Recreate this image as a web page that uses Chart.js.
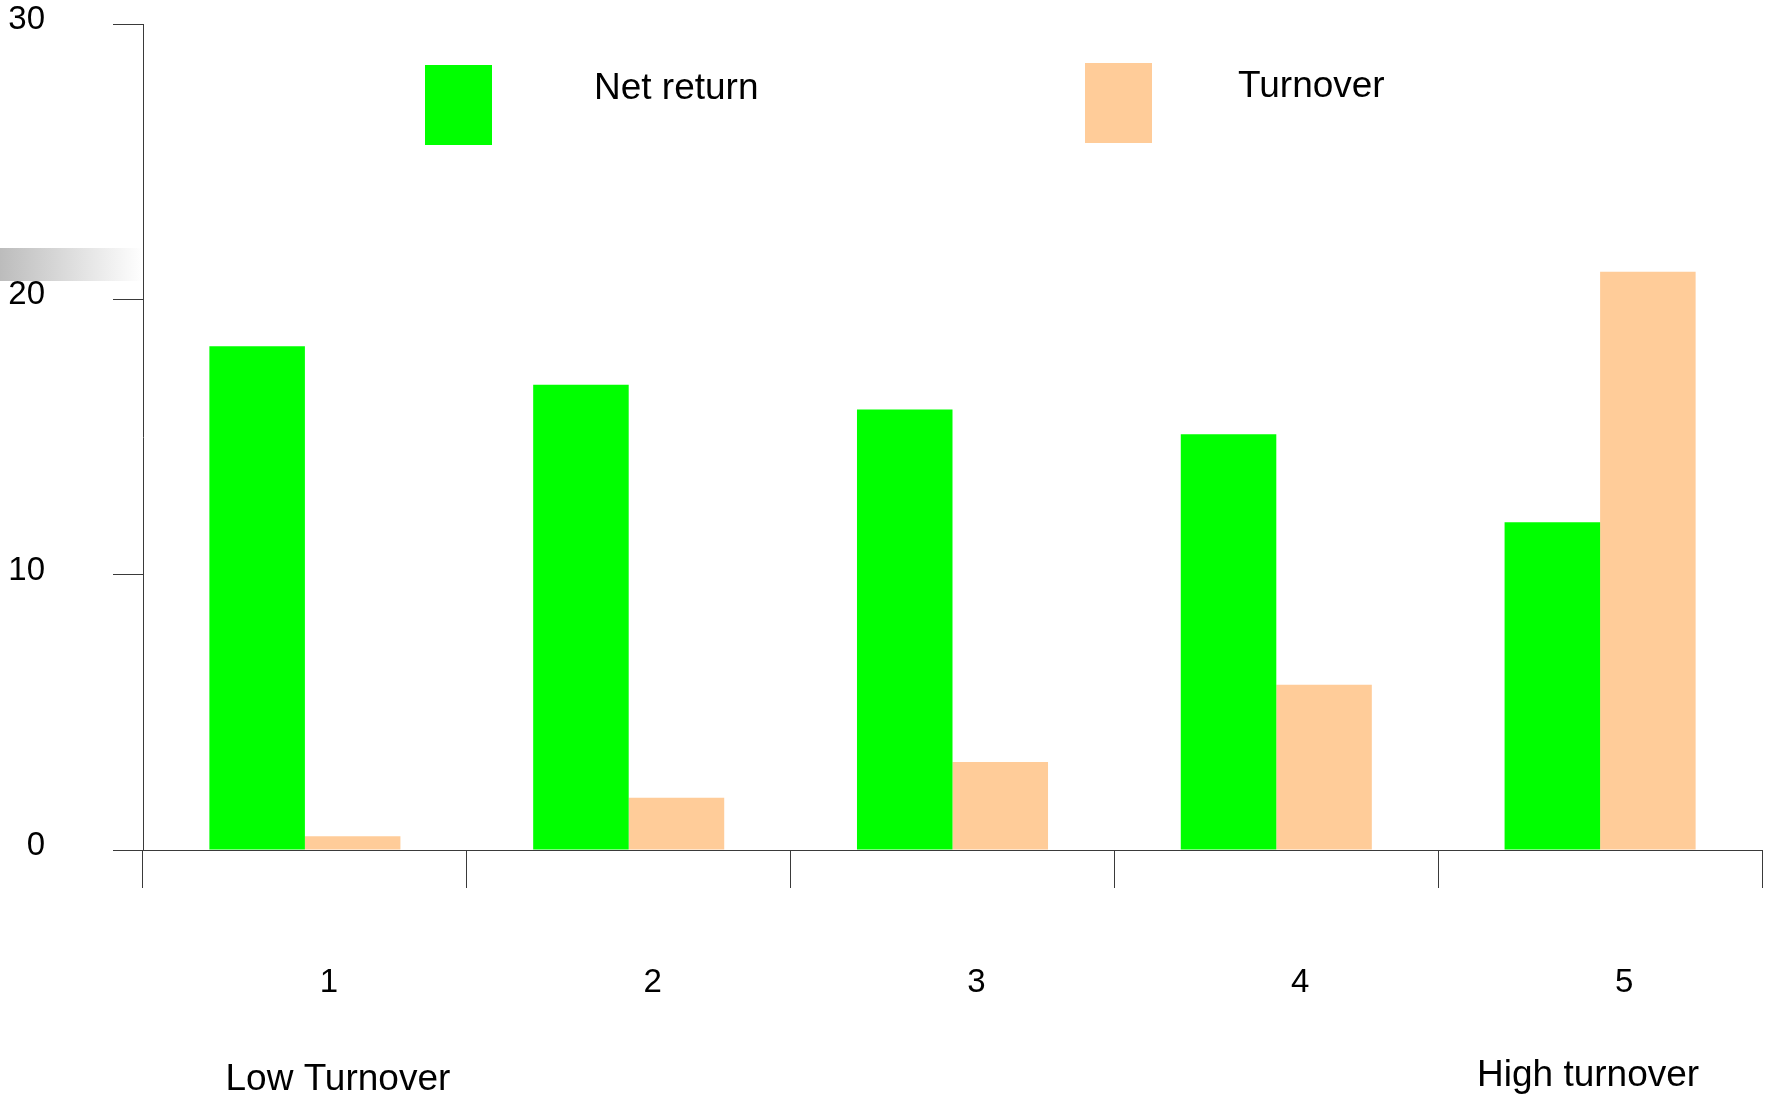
<!DOCTYPE html>
<html>
<head>
<meta charset="utf-8">
<script src="https://cdn.jsdelivr.net/npm/chart.js@4.4.1/dist/chart.umd.min.js"></script>
<style>
  html, body { margin: 0; padding: 0; background: #fff; }
  canvas { display: block; }
</style>
</head>
<body>
<canvas id="chart" width="1768" height="1095"></canvas>
<script>
// Turnover quintiles, from lowest (1) to highest (5)
const categories = ['1', '2', '3', '4', '5'];
const netReturn = [18.3, 16.9, 16.0, 15.1, 11.9];
const turnover = [0.5, 1.9, 3.2, 6.0, 21.0];
const yTicks = [0, 10, 20, 30];
const seriesNames = ['Net return', 'Turnover'];
const endNotes = ['Low Turnover', 'High turnover'];

const FONT = '"Liberation Sans", Arial, Helvetica, sans-serif';
const AXIS = '#3a3a3a';

// Grey fade strip at the left edge
const fadeStrip = {
  id: 'fadeStrip',
  beforeDraw(chart) {
    const ctx = chart.ctx;
    const g = ctx.createLinearGradient(0, 0, 143, 0);
    g.addColorStop(0, '#bcbcbc');
    g.addColorStop(1, '#ffffff');
    ctx.save();
    ctx.fillStyle = g;
    ctx.fillRect(0, 248, 141, 33);
    ctx.restore();
  }
};

// Legend: one coloured box and a name per dataset, spread across the top
const boxLegend = {
  id: 'boxLegend',
  afterDraw(chart, args, opts) {
    const ctx = chart.ctx;
    ctx.save();
    ctx.font = '37px ' + FONT;
    ctx.textBaseline = 'alphabetic';
    chart.data.datasets.forEach((ds, i) => {
      const p = opts.items[i];
      ctx.fillStyle = ds.backgroundColor;
      ctx.fillRect(p.bx, p.by, 67, 80);
      ctx.fillStyle = '#000';
      ctx.fillText(ds.label, p.tx, p.ty);
    });
    ctx.restore();
  }
};

// Notes under the first and last category
const endLabels = {
  id: 'endLabels',
  afterDraw(chart) {
    const ctx = chart.ctx;
    const x = chart.scales.x;
    ctx.save();
    ctx.font = '37px ' + FONT;
    ctx.fillStyle = '#000';
    ctx.textAlign = 'center';
    ctx.textBaseline = 'middle';
    ctx.fillText(endNotes[0], x.getPixelForValue(0) + 33, 1080);
    ctx.fillText(endNotes[1], x.getPixelForValue(categories.length - 1) - 12, 1076);
    ctx.restore();
  }
};

new Chart(document.getElementById('chart'), {
  type: 'bar',
  data: {
    labels: categories,
    datasets: [
      { label: seriesNames[0], data: netReturn, backgroundColor: '#00ff00', borderWidth: 0 },
      { label: seriesNames[1], data: turnover, backgroundColor: '#ffcc99', borderWidth: 0 }
    ]
  },
  options: {
    responsive: false,
    animation: false,
    layout: { padding: { top: 24, right: 6, left: 0, bottom: 0 } },
    datasets: { bar: { categoryPercentage: 0.59, barPercentage: 1.0 } },
    plugins: {
      legend: { display: false },
      tooltip: { enabled: false },
      boxLegend: {
        items: [
          { bx: 425, by: 65, tx: 594, ty: 99 },
          { bx: 1085, by: 63, tx: 1238, ty: 97 }
        ]
      }
    },
    scales: {
      x: {
        z: 1,
        afterFit(scale) {
          scale.height = 245;
          scale.paddingLeft = 0;
          scale.paddingRight = 0;
        },
        grid: {
          offset: true,
          drawOnChartArea: false,
          drawTicks: true,
          tickLength: 38,
          color: AXIS,
          lineWidth: 1
        },
        border: { display: true, color: AXIS, width: 1 },
        ticks: {
          color: '#000',
          font: { family: FONT, size: 33 },
          padding: 75,
          labelOffset: 24,
          maxRotation: 0
        }
      },
      y: {
        min: 0,
        max: 30,
        afterFit(scale) {
          scale.width = 143;
          scale.paddingTop = 0;
          scale.paddingBottom = 0;
        },
        afterBuildTicks(scale) { scale.ticks = yTicks.map(v => ({ value: v })); },
        grid: {
          drawOnChartArea: false,
          drawTicks: true,
          tickLength: 30,
          color: AXIS,
          lineWidth: 1
        },
        border: { display: true, color: AXIS, width: 1 },
        ticks: {
          color: '#000',
          font: { family: FONT, size: 33 },
          crossAlign: 'near',
          padding: 68,
          labelOffset: -4,
          callback: v => String(v)
        }
      }
    }
  },
  plugins: [fadeStrip, boxLegend, endLabels]
});
</script>
</body>
</html>
